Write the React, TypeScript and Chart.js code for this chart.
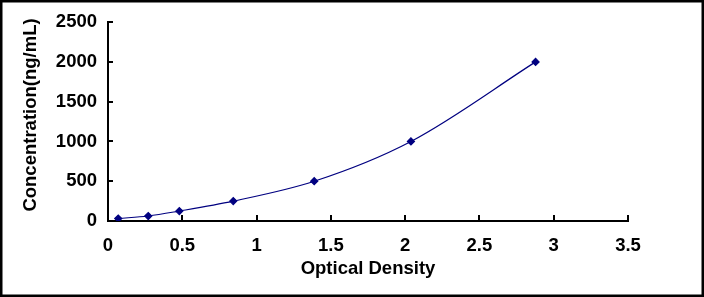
import React, { useEffect, useRef } from "react";
import { Chart, registerables } from "chart.js";

Chart.register(...registerables);

const opticalDensity = [0.069, 0.271, 0.48, 0.843, 1.388, 2.039, 2.878];
const concentration = [31.25, 62.5, 125, 250, 500, 1000, 2000];
const xTicks = [0, 0.5, 1, 1.5, 2, 2.5, 3, 3.5];
const yTicks = [0, 500, 1000, 1500, 2000, 2500];
const xTitle = "Optical Density";
const yTitle = "Concentration(ng/mL)";

const FONT = "'Liberation Sans', Arial, sans-serif";
const FONT_SIZE = 18.5;

const framePlugin = {
  id: "frame",
  beforeDraw(chart: any) {
    const { ctx, width, height } = chart;
    ctx.save();
    ctx.fillStyle = "#ffffff";
    ctx.fillRect(0, 0, width, height);
    ctx.restore();
  },
  afterDraw(chart: any) {
    const { ctx, width, height, chartArea, scales } = chart;
    ctx.save();
    ctx.strokeStyle = "#000000";
    ctx.lineWidth = 2;
    // inner tick marks
    ctx.beginPath();
    xTicks.forEach((v) => {
      const px = Math.round(scales.x.getPixelForValue(v));
      ctx.moveTo(px, chartArea.bottom);
      ctx.lineTo(px, chartArea.bottom - 6);
    });
    yTicks.forEach((v) => {
      const py = Math.round(scales.y.getPixelForValue(v));
      ctx.moveTo(chartArea.left, py);
      ctx.lineTo(chartArea.left + 5, py);
    });
    ctx.stroke();
    // y-axis title
    ctx.fillStyle = "#000000";
    ctx.font = `bold ${FONT_SIZE}px ${FONT}`;
    ctx.translate(31, 115);
    ctx.rotate(-Math.PI / 2);
    ctx.textAlign = "center";
    ctx.textBaseline = "middle";
    ctx.fillText(yTitle, 0, 0);
    ctx.setTransform(1, 0, 0, 1, 0, 0);
    // outer frame
    ctx.lineWidth = 3;
    ctx.strokeRect(1, 1, width - 2, height - 2);
    ctx.restore();
  },
};

export default function App() {
  const ref = useRef<HTMLCanvasElement | null>(null);
  useEffect(() => {
    if (!ref.current) return;
    const chart = new Chart(ref.current, {
      type: "line",
      data: {
        datasets: [
          {
            data: opticalDensity.map((x, i) => ({ x, y: concentration[i] })),
            borderColor: "#000080",
            backgroundColor: "#000080",
            borderWidth: 1.2,
            pointStyle: "rectRot",
            pointRadius: 3.5,
            pointHoverRadius: 3.5,
            cubicInterpolationMode: "monotone",
            fill: false,
          },
        ],
      },
      options: {
        responsive: false,
        animation: false,
        events: [],
        layout: { padding: { left: 0, top: 21, right: 76, bottom: 0 } },
        plugins: {
          legend: { display: false },
          tooltip: { enabled: false },
        },
        scales: {
          x: {
            type: "linear",
            min: 0,
            max: 3.5,
            afterFit: (s: any) => {
              s.height = 76;
            },
            afterBuildTicks: (s: any) => {
              s.ticks = xTicks.map((v) => ({ value: v }));
            },
            grid: { drawOnChartArea: false, drawTicks: false },
            border: { display: true, color: "#000000", width: 2 },
            ticks: {
              padding: 14,
              color: "#000000",
              font: { family: FONT, size: FONT_SIZE, weight: "bold" },
              callback: (v: any) => String(v),
              maxRotation: 0,
            },
            title: {
              display: true,
              text: xTitle,
              color: "#000000",
              font: { family: FONT, size: FONT_SIZE, weight: "bold" },
              padding: { top: 0, bottom: 17 },
            },
          },
          y: {
            type: "linear",
            min: 0,
            max: 2500,
            afterFit: (s: any) => {
              s.width = 108;
            },
            afterBuildTicks: (s: any) => {
              s.ticks = yTicks.map((v) => ({ value: v }));
            },
            grid: { drawOnChartArea: false, drawTicks: false },
            border: { display: true, color: "#000000", width: 2 },
            ticks: {
              padding: 11,
              color: "#000000",
              font: { family: FONT, size: FONT_SIZE, weight: "bold" },
              callback: (v: any) => String(v),
            },
            title: { display: false },
          },
        },
      },
      plugins: [framePlugin],
    });
    return () => chart.destroy();
  }, []);
  return (
    <div style={{ position: "absolute", left: 0, top: 0, width: 704, height: 297 }}>
      <canvas ref={ref} width={704} height={297} style={{ display: "block" }} />
    </div>
  );
}
